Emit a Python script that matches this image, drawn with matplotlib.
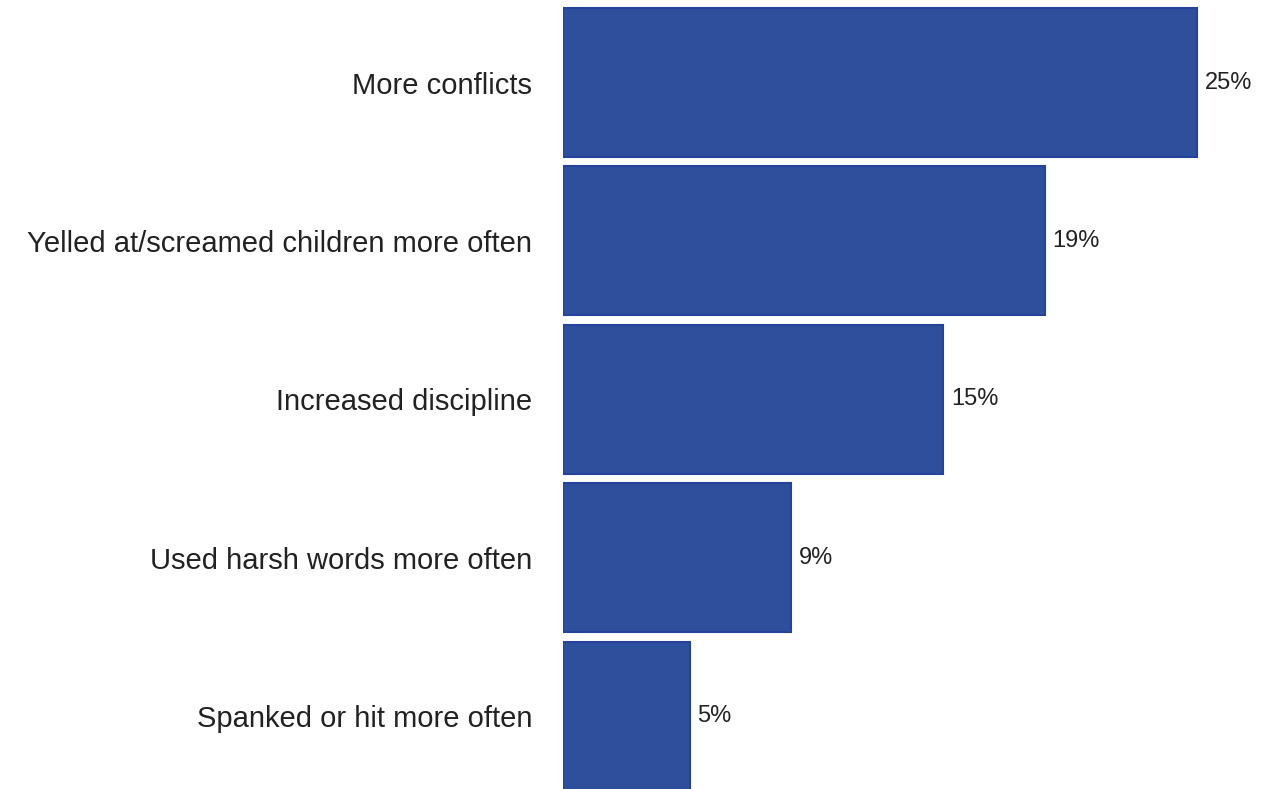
import matplotlib
matplotlib.use("Agg")
import matplotlib.pyplot as plt

categories = [
    "More conflicts",
    "Yelled at/screamed children more often",
    "Increased discipline",
    "Used harsh words more often",
    "Spanked or hit more often",
]
values = [25, 19, 15, 9, 5]
value_labels = ["25%", "19%", "15%", "9%", "5%"]

font = ["Liberation Sans Narrow", "Liberation Sans", "DejaVu Sans"]

fig = plt.figure(figsize=(12.68, 7.89), dpi=100)
ax = fig.add_axes([0.444, 0.0, 0.556, 1.0])

ypos = list(range(len(categories)))
ax.barh(ypos, values, height=0.94, color="#2e4f9c", edgecolor="#25439a", linewidth=1.5)

for y, v, lab in zip(ypos, values, value_labels):
    ax.text(v + 0.3, y, lab, va="center", ha="left", fontsize=17,
            color="#222222", family=font)

ax.set_yticks(ypos)
ax.set_yticklabels(categories, fontsize=21, color="#222222", family=font)
ax.tick_params(axis="y", length=0, pad=22)
ax.set_xticks([])
ax.set_xlim(0, 27.8)
ax.set_ylim(4.461, -0.521)
for s in ax.spines.values():
    s.set_visible(False)

fig.savefig("out.png", dpi=100, facecolor="white")
